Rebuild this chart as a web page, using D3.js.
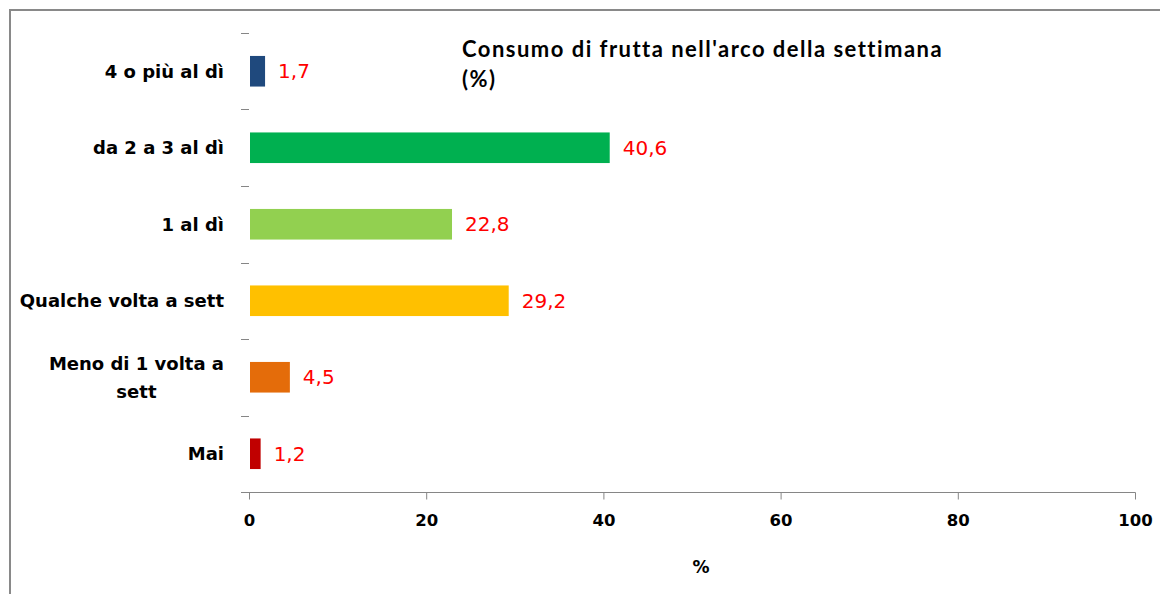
<!DOCTYPE html>
<html>
<head>
<meta charset="utf-8">
<script src="https://cdn.jsdelivr.net/npm/d3@7"></script>
<style>
  html, body { margin: 0; padding: 0; background: #fff; }
  svg { display: block; }
</style>
</head>
<body>
<svg id="chart" width="1160" height="594"></svg>
<script>
// ---- data ----
const categories = ["4 o più al dì", "da 2 a 3 al dì", "1 al dì", "Qualche volta a sett", "Meno di 1 volta a sett", "Mai"];
const categoryLines = [["4 o più al dì"], ["da 2 a 3 al dì"], ["1 al dì"], ["Qualche volta a sett"], ["Meno di 1 volta a", "sett"], ["Mai"]];
const values = [1.7, 40.6, 22.8, 29.2, 4.5, 1.2];
const valueLabels = ["1,7", "40,6", "22,8", "29,2", "4,5", "1,2"];
const barColors = ["#1F497D", "#00B050", "#92D050", "#FFC000", "#E46C0A", "#C00000"];
const xTicks = [0, 20, 40, 60, 80, 100];
const titleLines = ["Consumo di frutta nell'arco della settimana", "(%)"];
const xAxisTitle = "%";

// ---- layout ----
const svg = d3.select("#chart");
svg.append("rect").attr("width", 1160).attr("height", 594).attr("fill", "#fff");

// outer frame (left and top edges visible)
svg.append("path")
  .attr("d", "M10,594V10H1160")
  .attr("fill", "none").attr("stroke", "#898989").attr("stroke-width", 2);

const x = d3.scaleLinear().domain([0, 100]).range([249, 1135]);
const y = d3.scaleBand().domain(categories).range([33, 492]).paddingInner(0.6).paddingOuter(0.3);
const step = y.step();
const gap = (step - y.bandwidth()) / 2;

const axisColor = "#868686";

// y tick marks at band boundaries (no axis line)
const bounds = categories.map(c => y(c) - gap);
svg.append("g").selectAll("line").data(bounds).join("line")
  .attr("x1", 241).attr("x2", 249)
  .attr("y1", d => Math.round(d) + 0.5).attr("y2", d => Math.round(d) + 0.5)
  .attr("stroke", axisColor).attr("stroke-width", 1);

// x axis
const axisY = 492;
const xAxis = d3.axisBottom(x).tickValues(xTicks).tickFormat(d3.format("d")).tickSize(7).tickPadding(15);
const gx = svg.append("g").attr("transform", `translate(0,${axisY + 0.5})`).call(xAxis);
gx.select(".domain").remove();
gx.selectAll(".tick line").attr("stroke", axisColor);
gx.selectAll(".tick text")
  .attr("fill", "#000")
  .style("font-family", "'DejaVu Sans', sans-serif")
  .style("font-weight", "bold")
  .style("font-size", "16.5px");
svg.append("line")
  .attr("x1", 241).attr("x2", x(100) + 0.5)
  .attr("y1", axisY + 0.5).attr("y2", axisY + 0.5)
  .attr("stroke", axisColor).attr("stroke-width", 1);

// bars
svg.append("g").selectAll("rect").data(values).join("rect")
  .attr("x", x(0) + 1)
  .attr("y", (d, i) => y(categories[i]))
  .attr("width", d => x(d) - x(0))
  .attr("height", y.bandwidth())
  .attr("fill", (d, i) => barColors[i]);

// value labels
svg.append("g").selectAll("text").data(values).join("text")
  .attr("x", d => x(d) + 14)
  .attr("y", (d, i) => y(categories[i]) + y.bandwidth() / 2)
  .attr("dy", "0.35em")
  .attr("fill", "#FF0000")
  .style("font-family", "'DejaVu Sans', sans-serif")
  .style("font-size", "20px")
  .text((d, i) => valueLabels[i]);

// category labels
const labelRight = 224;
const lineH = 28;
categoryLines.forEach((lines, i) => {
  const cy = y(categories[i]) + y.bandwidth() / 2;
  const g = svg.append("g");
  const texts = lines.map((ln, j) => g.append("text")
    .attr("y", cy + (j - (lines.length - 1) / 2) * lineH)
    .attr("dy", "0.36em")
    .attr("fill", "#000")
    .style("font-family", "'DejaVu Sans', sans-serif")
    .style("font-weight", "bold")
    .style("font-size", "18px")
    .text(ln));
  if (lines.length === 1) {
    texts[0].attr("x", labelRight).attr("text-anchor", "end");
  } else {
    const w = d3.max(texts, t => t.node().getComputedTextLength());
    texts.forEach(t => t.attr("x", labelRight - w / 2).attr("text-anchor", "middle"));
  }
});

// chart title (letter-spaced to match the original's wide setting)
const titleSel = svg.append("g").selectAll("text").data(titleLines).join("text")
  .attr("x", 462)
  .attr("y", (d, i) => 57 + i * 30)
  .attr("fill", "#000")
  .style("font-family", "Lato, sans-serif")
  .style("font-weight", "bold")
  .style("font-size", "22px")
  .text(d => d);
const t0 = titleSel.nodes()[0];
const natural = t0.getComputedTextLength();
const ls = (478 - natural) / (titleLines[0].length - 1);
titleSel.style("letter-spacing", ls + "px");

// x axis title
svg.append("text")
  .attr("x", (x(0) + x(100)) / 2 + 9)
  .attr("y", 573)
  .attr("text-anchor", "middle")
  .attr("fill", "#000")
  .style("font-family", "'DejaVu Sans', sans-serif")
  .style("font-weight", "bold")
  .style("font-size", "17px")
  .text(xAxisTitle);
</script>
</body>
</html>
